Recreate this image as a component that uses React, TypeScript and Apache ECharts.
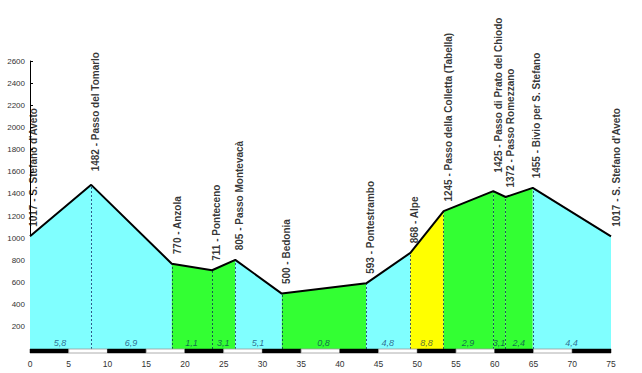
import React, { useEffect, useRef } from "react";
import * as echarts from "echarts";

const placeNames = [
  "S. Stefano d'Aveto",
  "Passo del Tomarlo",
  "Anzola",
  "Ponteceno",
  "Passo Montevacà",
  "Bedonia",
  "Pontestrambo",
  "Alpe",
  "Passo della Colletta (Tabella)",
  "Passo di Prato del Chiodo",
  "Passo Romezzano",
  "Bivio per S. Stefano",
  "S. Stefano d'Aveto",
];
const distanceKm = [0, 7.9, 18.3, 23.5, 26.5, 32.5, 43.4, 49.1, 53.4, 59.8, 61.4, 64.9, 75];
const elevationM = [1017, 1482, 770, 711, 805, 500, 593, 868, 1245, 1425, 1372, 1455, 1017];
const segmentGradient = [5.8, 6.9, 1.1, 3.1, 5.1, 0.8, 4.8, 8.8, 2.9, 3.1, 2.4, 4.4];
const xTicks = [0, 5, 10, 15, 20, 25, 30, 35, 40, 45, 50, 55, 60, 65, 70, 75];

// style-only arrays
const labelGap = [9, 13, 9, 9, 9, 9, 9, 9, 9, 18, 9, 9, 9];
const labelShift = [4, 5, 6, 5, 5, 5, 5, 5, 5, 6, 5, 4, 6];

const CYAN = "#80FFFF";
const GREEN = "#33FF33";
const YELLOW = "#FFFF00";
const colorFor = (g: number) => (g >= 8 ? YELLOW : g >= 4 ? CYAN : GREEN);

export default function App() {
  const ref = useRef<HTMLDivElement>(null);
  useEffect(() => {
    if (!ref.current) return;
    const chart = echarts.init(ref.current, undefined, { renderer: "svg" });
    const font = 'Arial, "Liberation Sans", sans-serif';

    const areaSeries = segmentGradient.map((g, i) => ({
      type: "line",
      data: [
        [distanceKm[i], elevationM[i]],
        [distanceKm[i + 1], elevationM[i + 1]],
      ],
      showSymbol: false,
      symbol: "none",
      lineStyle: { width: 0, opacity: 0 },
      areaStyle: { color: colorFor(g), opacity: 1 },
      silent: true,
      z: 1,
    }));

    const dropLines = distanceKm.slice(1, -1).map((d, i) => [
      { coord: [d, 0] },
      { coord: [d, elevationM[i + 1]] },
    ]);

    const blocks = xTicks.slice(0, -1).map((t, i) => [t, xTicks[i + 1], i % 2]);

    const option: any = {
      animation: false,
      textStyle: { fontFamily: font },
      grid: { left: 30, right: 31, top: 61, bottom: 24, containLabel: false },
      xAxis: {
        type: "value",
        min: 0,
        max: 75,
        interval: 5,
        axisLine: { show: false },
        axisTick: { show: false },
        splitLine: { show: false },
        axisLabel: { fontSize: 8.5, color: "#333", margin: 10, fontFamily: font },
      },
      yAxis: {
        type: "value",
        min: 0,
        max: 2600,
        interval: 200,
        axisLine: { show: true, lineStyle: { color: "#000", width: 1 } },
        axisTick: { show: true, inside: true, length: 3, lineStyle: { color: "#000" } },
        splitLine: { show: false },
        axisLabel: {
          fontSize: 8,
          color: "#333",
          margin: 5,
          showMinLabel: false,
          fontFamily: font,
          formatter: (v: number) => String(v),
        },
      },
      series: [
        ...areaSeries,
        {
          type: "line",
          data: distanceKm.map((d, i) => [d, elevationM[i]]),
          showSymbol: false,
          symbol: "none",
          lineStyle: { color: "#000", width: 2 },
          z: 3,
          markLine: {
            silent: true,
            symbol: ["none", "none"],
            label: { show: false },
            lineStyle: { color: "rgba(0,20,90,0.7)", width: 1, type: [2, 2] },
            data: dropLines,
            z: 2,
          },
        },
        {
          type: "custom",
          clip: false,
          silent: true,
          z: 4,
          data: blocks,
          renderItem: (params: any, api: any) => {
            const p0 = api.coord([api.value(0), 0]);
            const p1 = api.coord([api.value(1), 0]);
            const black = api.value(2) === 0;
            return {
              type: "rect",
              shape: { x: p0[0], y: p0[1], width: p1[0] - p0[0], height: 4 },
              style: black
                ? { fill: "#000", stroke: "#000", lineWidth: 0.5 }
                : { fill: "#fff", stroke: "#999", lineWidth: 0.8 },
            };
          },
        },
        {
          type: "scatter",
          symbolSize: 1,
          itemStyle: { color: "transparent" },
          silent: true,
          z: 5,
          data: distanceKm.map((d, i) => ({
            value: [d, elevationM[i]],
            label: {
              show: true,
              formatter: `${elevationM[i]} - ${placeNames[i]}`,
              position: [labelShift[i], -labelGap[i]],
              rotate: 90,
              align: "left",
              verticalAlign: "middle",
              fontSize: 10,
              fontWeight: "bold",
              color: "#000",
              fontFamily: font,
            },
          })),
        },
        {
          type: "scatter",
          symbolSize: 1,
          itemStyle: { color: "transparent" },
          silent: true,
          z: 5,
          data: segmentGradient.map((g, i) => ({
            value: [(distanceKm[i] + distanceKm[i + 1]) / 2, 0],
            label: {
              show: true,
              formatter: g.toFixed(1).replace(".", ","),
              position: [0, -6],
              align: "center",
              verticalAlign: "middle",
              fontSize: 9,
              fontStyle: "italic",
              color: "rgba(0,30,90,0.85)",
              fontFamily: font,
            },
          })),
        },
      ],
    };
    chart.setOption(option);
    return () => chart.dispose();
  }, []);
  return (
    <div
      ref={ref}
      style={{ position: "fixed", left: 0, top: 0, width: 642, height: 373, background: "#fff" }}
    />
  );
}
